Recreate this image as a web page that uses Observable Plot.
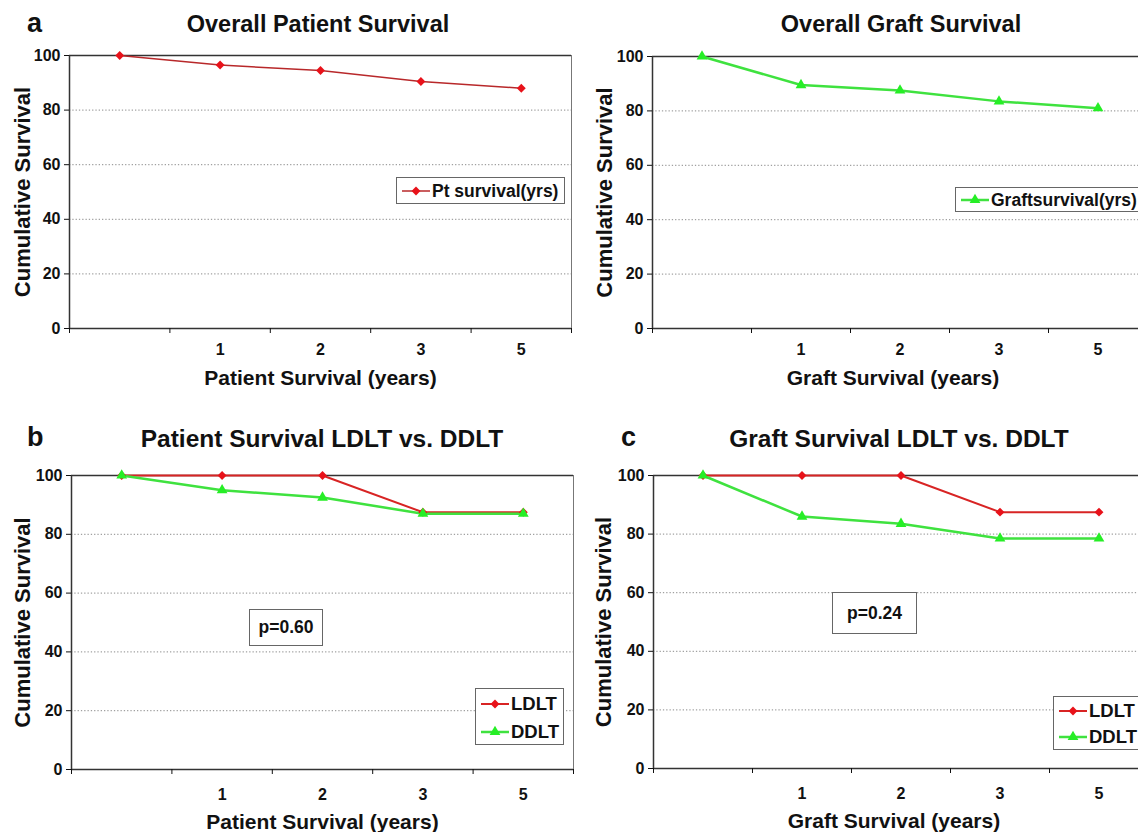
<!DOCTYPE html>
<html>
<head>
<meta charset="utf-8">
<script src="https://cdn.jsdelivr.net/npm/d3@7"></script>
<script src="https://cdn.jsdelivr.net/npm/@observablehq/plot@0.6"></script>
<style>
  html, body { margin: 0; padding: 0; background: #fff; }
  body { width: 1138px; height: 832px; overflow: hidden; position: relative;
         font-family: "Liberation Sans", Arial, sans-serif; color: #111; }
  .abs { position: absolute; white-space: nowrap; }
  .box { position: absolute; border: 1px solid #666; background: #fff; box-sizing: border-box; }
  .row { position: absolute; left: 0; display: flex; align-items: center; font-weight: bold; }
</style>
</head>
<body>
<script>
// ---------------- data ----------------
const categories = ["", "1", "2", "3", "5"];
const yTicks = [0, 20, 40, 60, 80, 100];
const gridValues = [20, 40, 60, 80];
const ptSurvival = [100, 96.5, 94.5, 90.5, 88];
const graftSurvival = [100, 89.5, 87.5, 83.5, 81];
const ldltPatient = [100, 100, 100, 87.5, 87.5];
const ddltPatient = [100, 95, 92.5, 87, 87];
const ldltGraft = [100, 100, 100, 87.5, 87.5];
const ddltGraft = [100, 86, 83.5, 78.5, 78.5];
const panelLetters = ["a", "", "b", "c"];
const panelTitles = ["Overall Patient Survival", "Overall Graft Survival",
                     "Patient Survival LDLT vs. DDLT", "Graft Survival LDLT vs. DDLT"];
const xTitles = ["Patient Survival (years)", "Graft Survival (years)",
                 "Patient Survival (years)", "Graft Survival (years)"];
const yTitle = "Cumulative Survival";
const pValues = ["p=0.60", "p=0.24"];

// ---------------- styles ----------------
const RED = {line: "#b8282a", fill: "#e8121a", symbol: "diamond2", r: 4};
const RED2 = {line: "#d82424", fill: "#e8121a", symbol: "diamond2", r: 4};
const GREEN = {line: "#3fe23f", fill: "#26ee26", symbol: "triangle", r: 4};
const TICK_FS = 16;

const panels = [
  {svgLeft: 0, plotLeft: 69, plotTop: 55, plotW: 502, plotH: 273, xPad: 15, xTitleDy: 56, yTitleDx: -40, xTitleDx: 0,
   series: [{name: "Pt survival(yrs)", values: ptSurvival, ...RED, lw: 1.5}]},
  {svgLeft: 580, plotLeft: 652, plotTop: 56, plotW: 495, plotH: 272, xPad: 15, xTitleDy: 56, yTitleDx: -41, xTitleDx: -7,
   series: [{name: "Graftsurvival(yrs)", values: graftSurvival, ...GREEN, lw: 2.5}]},
  {svgLeft: 0, plotLeft: 71, plotTop: 475, plotW: 502, plotH: 294, xPad: 19, xTitleDy: 59, yTitleDx: -42, xTitleDx: 0,
   series: [{name: "LDLT", values: ldltPatient, ...RED2, lw: 2},
            {name: "DDLT", values: ddltPatient, ...GREEN, lw: 2.5}]},
  {svgLeft: 580, plotLeft: 653, plotTop: 475, plotW: 495, plotH: 293, xPad: 19, xTitleDy: 59, yTitleDx: -43, xTitleDx: -7,
   series: [{name: "LDLT", values: ldltGraft, ...RED2, lw: 2},
            {name: "DDLT", values: ddltGraft, ...GREEN, lw: 2.5}]}
];

function makePanel(cfg, k) {
  const marginLeft = cfg.plotLeft - cfg.svgLeft, marginTop = 15, marginBottom = 72, marginRight = 6;
  const marks = [
    Plot.ruleY(gridValues, {stroke: "#8a8a8a", strokeDasharray: "1.3 2", strokeWidth: 1}),
    Plot.frame({stroke: "#777", strokeWidth: 1}),
    Plot.ruleY([yTicks[yTicks.length - 1]], {stroke: "#333", strokeWidth: 1.6}),
    Plot.ruleY([0], {stroke: "#333", strokeWidth: 1.5}),
    Plot.ruleX([0], {stroke: "#333", strokeWidth: 1.5}),
    Plot.axisY({ticks: yTicks, tickSize: 5, tickFormat: () => "", label: null}),
    Plot.axisX({ticks: d3.range(categories.length + 1), tickSize: 5, tickFormat: () => "", label: null}),
    // tick labels
    Plot.text(yTicks, {y: d => d, text: d => String(d), frameAnchor: "left", dx: -9, textAnchor: "end",
      lineAnchor: "middle", fontSize: TICK_FS, fontWeight: "bold"}),
    Plot.text(categories, {x: (d, i) => i + 0.5, text: d => d, frameAnchor: "bottom", dy: cfg.xPad,
      textAnchor: "middle", lineAnchor: "top", fontSize: TICK_FS, fontWeight: "bold"})
  ];
  const rowsOf = s => categories.map((c, i) => ({xi: i + 0.5, v: s.values[i]}));
  for (const s of cfg.series)
    marks.push(Plot.line(rowsOf(s), {x: "xi", y: "v", stroke: s.line, strokeWidth: s.lw}));
  for (const s of cfg.series)
    marks.push(Plot.dot(rowsOf(s), {x: "xi", y: "v", symbol: s.symbol, r: s.r, fill: s.fill, stroke: "none"}));
  marks.push(Plot.text([yTitle], {text: d => d, frameAnchor: "left", rotate: -90, dx: cfg.yTitleDx,
    textAnchor: "middle", lineAnchor: "bottom", fontSize: 22, fontWeight: "bold"}));
  marks.push(Plot.text([xTitles[k]], {text: d => d, frameAnchor: "bottom", dy: cfg.xTitleDy, dx: cfg.xTitleDx,
    textAnchor: "middle", lineAnchor: "bottom", fontSize: 21, fontWeight: "bold"}));

  const chart = Plot.plot({
    width: marginLeft + cfg.plotW + marginRight,
    height: marginTop + cfg.plotH + marginBottom,
    marginLeft, marginTop, marginBottom, marginRight,
    x: {domain: [0, categories.length]},
    y: {domain: [yTicks[0], yTicks[yTicks.length - 1]]},
    style: {fontFamily: "'Liberation Sans', Arial, sans-serif", fontWeight: "bold",
            color: "#111", background: "transparent", overflow: "visible"},
    marks
  });
  chart.style.position = "absolute";
  chart.style.left = cfg.svgLeft + "px";
  chart.style.top = (cfg.plotTop - marginTop) + "px";
  document.body.appendChild(chart);
}

panels.forEach(makePanel);

// ---------------- texts ----------------
function textAt(str, x, baseline, fs, opts = {}) {
  const d = document.createElement("div");
  d.className = "abs";
  d.textContent = str;
  d.style.fontSize = fs + "px";
  d.style.lineHeight = fs + "px";
  d.style.fontWeight = opts.weight || "bold";
  d.style.top = (baseline - 0.8465 * fs) + "px";
  d.style.left = x + "px";
  if (opts.center) d.style.transform = "translateX(-50%)";
  document.body.appendChild(d);
  return d;
}
const titlePos = [[318, 33, 23.5], [901, 33, 23.5], [322, 448, 24.5], [899, 448, 24.5]];
panelTitles.forEach((t, i) => textAt(t, titlePos[i][0], titlePos[i][1], titlePos[i][2], {center: true}));
const letterPos = [[27, 33], null, [27, 447], [621, 447]];
panelLetters.forEach((l, i) => { if (l) textAt(l, letterPos[i][0], letterPos[i][1], 27); });

// ---------------- legends ----------------
function swatch(s) {
  const ns = "http://www.w3.org/2000/svg";
  const svg = document.createElementNS(ns, "svg");
  svg.setAttribute("width", 30); svg.setAttribute("height", 16);
  const symType = s.symbol === "triangle" ? d3.symbolTriangle : (d3.symbolDiamond2 || d3.symbolSquare);
  const size = Math.PI * s.r * s.r;
  svg.innerHTML = `<line x1="1" x2="29" y1="8" y2="8" stroke="${s.line}" stroke-width="${s.lw}"/>` +
    `<path transform="translate(15,8)" d="${d3.symbol(symType, size)()}" fill="${s.fill}"/>`;
  return svg;
}
function legend(cfg, left, top, w, h, rowYs, fs) {
  const box = document.createElement("div");
  box.className = "box";
  Object.assign(box.style, {left: left + "px", top: top + "px", width: w + "px", height: h + "px"});
  cfg.series.forEach((s, i) => {
    const row = document.createElement("div");
    row.className = "row";
    row.style.top = (rowYs[i] - 10) + "px";
    row.style.height = "20px";
    row.style.left = "4px";
    row.style.fontSize = fs + "px";
    row.appendChild(swatch(s));
    const t = document.createElement("span");
    t.textContent = s.name;
    t.style.marginLeft = "1px";
    row.appendChild(t);
    box.appendChild(row);
  });
  document.body.appendChild(box);
}
legend(panels[0], 396, 177, 169, 27, [13], 17.5);
legend(panels[1], 955, 187, 200, 25, [12], 17.5);
legend(panels[2], 475, 688, 89, 57, [15, 43], 18.5);
legend(panels[3], 1053, 696, 100, 54, [14, 40], 18.5);

function pBox(str, left, top, w, h) {
  const b = document.createElement("div");
  b.className = "box";
  Object.assign(b.style, {left: left + "px", top: top + "px", width: w + "px", height: h + "px",
    display: "flex", alignItems: "center", justifyContent: "center", fontWeight: "bold", fontSize: "17.5px"});
  b.textContent = str;
  document.body.appendChild(b);
}
pBox(pValues[0], 249, 609, 74, 37);
pBox(pValues[1], 832, 592, 85, 42);
</script>
</body>
</html>
